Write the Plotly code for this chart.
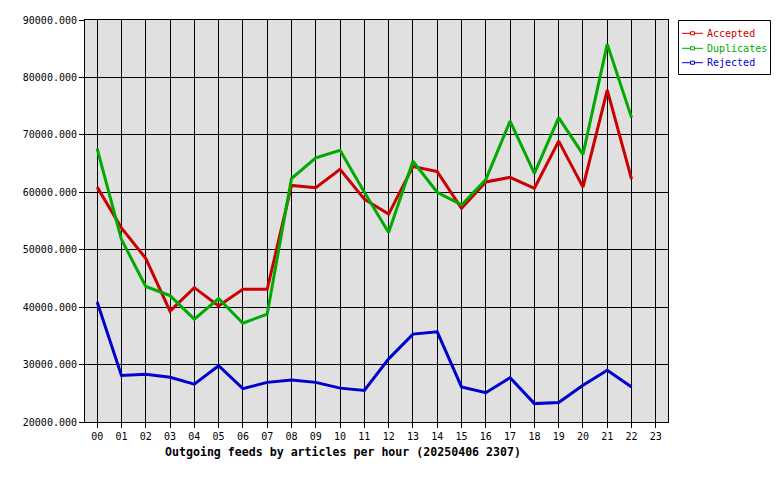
import plotly.graph_objects as go

hours = [f"{h:02d}" for h in range(24)]

accepted = [60900, 53800, 48500, 39300, 43400, 40200, 43100, 43100, 61200, 60800,
            64000, 58800, 56200, 64500, 63600, 57200, 61800, 62600, 60700, 68900,
            60900, 77800, 62300]
duplicates = [67600, 51800, 43600, 42000, 37900, 41500, 37200, 38800, 62400, 66000,
              67300, 60000, 53000, 65400, 60000, 57800, 62200, 72400, 63300, 73000,
              66600, 85800, 73000]
rejected = [40900, 28100, 28300, 27800, 26600, 29800, 25800, 26900, 27300, 26900,
            25900, 25500, 31000, 35300, 35700, 26100, 25100, 27700, 23200, 23400,
            26400, 29000, 26100]

series_names = ["Accepted", "Duplicates", "Rejected"]
series_values = [accepted, duplicates, rejected]
series_colors = ["#cc0000", "#00aa00", "#0000cc"]

y_ticks = list(range(20000, 90001, 10000))
y_ticklabels = [f"{v}.000" for v in y_ticks]
title_text = "Outgoing feeds by articles per hour (20250406 2307)"

font_mono = "DejaVu Sans Mono"

W, H = 780, 480
ML, MR, MT, MB = 77, 120, 12, 66
PW = W - ML - MR
PH = H - MT - MB


def px(fx):
    return (fx - ML) / PW


def py(fy):
    return 1 - (fy - MT) / PH


fig = go.Figure()
xs = list(range(24))
for name, vals, color in zip(series_names, series_values, series_colors):
    fig.add_trace(go.Scatter(
        x=xs[:len(vals)], y=vals, mode="lines", name=name,
        line=dict(color=color, width=3), showlegend=False, hoverinfo="skip"))

shapes = [dict(type="rect", xref="paper", yref="paper",
               x0=px(670.5), x1=px(762.5), y0=py(12.5), y1=py(66.5),
               line=dict(color="black", width=1), fillcolor="white", layer="above")]
annotations = []
item_y = [25.3, 40.3, 54.7]
for name, color, iy in zip(series_names, series_colors, item_y):
    shapes.append(dict(type="line", xref="paper", yref="paper",
                       x0=px(674), x1=px(695), y0=py(iy), y1=py(iy),
                       line=dict(color=color, width=1), layer="above"))
    shapes.append(dict(type="rect", xref="paper", yref="paper",
                       x0=px(682.5), x1=px(686.5), y0=py(iy - 1.5), y1=py(iy + 1.5),
                       line=dict(color=color, width=1), fillcolor="white", layer="above"))
    annotations.append(dict(text=name, xref="paper", yref="paper",
                            x=px(697), y=py(iy), xanchor="left", yanchor="middle",
                            showarrow=False,
                            font=dict(family=font_mono, size=10, color=color)))

annotations.append(dict(text=f"<b>{title_text}</b>", xref="paper", yref="paper",
                        x=px(343 - 8), y=-0.052, xanchor="center", yanchor="top",
                        showarrow=False, font=dict(family=font_mono, size=11.6, color="black")))

fig.update_layout(
    width=W, height=H,
    margin=dict(l=ML, r=MR, t=MT, b=MB, autoexpand=False),
    paper_bgcolor="white", plot_bgcolor="#e0e0e0",
    font=dict(family=font_mono, size=10, color="black"),
    showlegend=False,
    xaxis=dict(range=[-0.5, 23.5], tickmode="array", tickvals=xs, ticktext=hours,
               showgrid=True, gridcolor="black", gridwidth=1,
               showline=True, linecolor="black", linewidth=1, mirror=True,
               ticks="outside", ticklen=5, tickcolor="black", zeroline=False,
               tickfont=dict(family=font_mono, size=10)),
    yaxis=dict(range=[20000, 90000], tickmode="array", tickvals=y_ticks, ticktext=y_ticklabels,
               showgrid=True, gridcolor="black", gridwidth=1,
               showline=True, linecolor="black", linewidth=1, mirror=True,
               ticks="outside", ticklen=5, tickcolor="black", zeroline=False,
               tickfont=dict(family=font_mono, size=10)),
    shapes=shapes,
    annotations=annotations,
)

fig.write_html("out.html")
